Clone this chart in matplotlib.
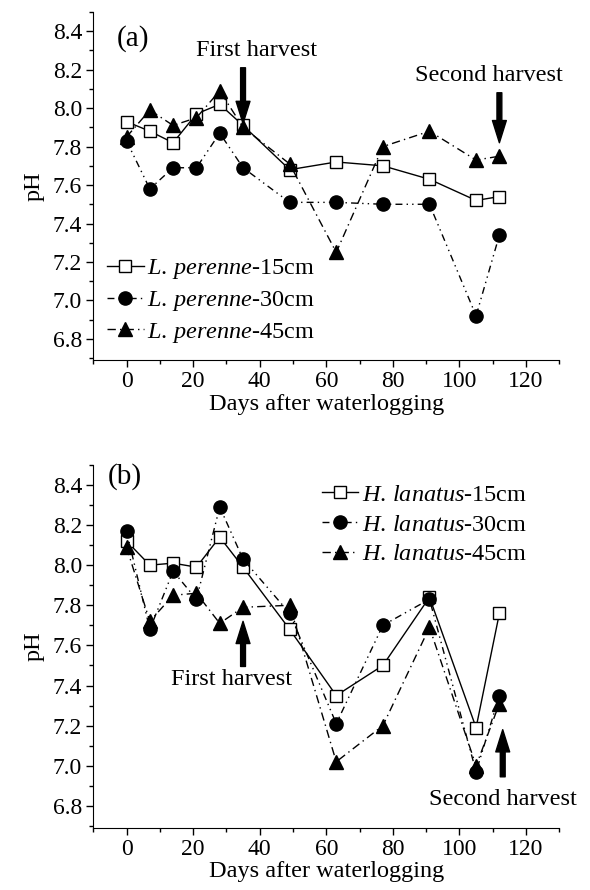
import numpy as np
import matplotlib
matplotlib.use('Agg')
import matplotlib.pyplot as plt
from matplotlib.ticker import MultipleLocator

plt.rcParams['font.family'] = ['Liberation Serif', 'DejaVu Serif']
plt.rcParams['mathtext.fontset'] = 'custom'
plt.rcParams['mathtext.rm'] = 'Liberation Serif'
plt.rcParams['mathtext.it'] = 'Liberation Serif:italic'

days = [0, 7, 14, 21, 28, 35, 49, 63, 77, 91, 105, 112]

# panel (a) L. perenne
lp_15 = [7.93, 7.88, 7.82, 7.97, 8.02, 7.91, 7.68, 7.72, 7.70, 7.63, 7.52, 7.54]
lp_30 = [7.83, 7.58, 7.69, 7.69, 7.87, 7.69, 7.51, 7.51, 7.50, 7.50, 6.92, 7.34]
lp_45 = [7.85, 7.99, 7.91, 7.95, 8.09, 7.90, 7.71, 7.25, 7.80, 7.88, 7.73, 7.75]

# panel (b) H. lanatus
hl_15 = [8.12, 8.00, 8.01, 7.99, 8.14, 7.99, 7.68, 7.35, 7.50, 7.84, 7.19, 7.76]
hl_30 = [8.17, 7.68, 7.97, 7.83, 8.29, 8.03, 7.76, 7.21, 7.70, 7.83, 6.97, 7.35]
hl_45 = [8.09, 7.72, 7.85, 7.86, 7.71, 7.79, 7.80, 7.02, 7.20, 7.69, 7.00, 7.31]

depths = ['15cm', '30cm', '45cm']

styles = [
    dict(ls='-', marker='s', mfc='white', mec='black', ms=8.5),
    dict(ls=(0, (5, 3, 1, 3, 1, 3)), marker='o', mfc='black', mec='black', ms=9.5),
    dict(ls=(0, (6, 3, 1, 3)), marker='^', mfc='black', mec='black', ms=9.5),
]

fig = plt.figure(figsize=(5.9, 8.9), dpi=100)
ax1 = fig.add_axes([0.158, 0.5955, 0.79, 0.391])
ax2 = fig.add_axes([0.158, 0.0697, 0.79, 0.408])


def setup(ax):
    ax.set_xlim(-10, 130)
    ax.set_ylim(6.69, 8.5)
    ax.spines['top'].set_visible(False)
    ax.spines['right'].set_visible(False)
    ax.xaxis.set_minor_locator(MultipleLocator(10))
    ax.yaxis.set_minor_locator(MultipleLocator(0.1))
    ax.set_xticks(np.arange(0, 121, 20))
    ax.set_yticks(np.arange(6.8, 8.41, 0.2))
    ax.yaxis.set_major_formatter(matplotlib.ticker.FormatStrFormatter('%.1f'))
    ax.tick_params(which='major', direction='out', length=5, width=1, labelsize=17, pad=3)
    ax.tick_params(which='minor', direction='out', length=3, width=1)
    ax.set_xlabel('Days after waterlogging', fontsize=17.5, labelpad=1)
    ax.set_ylabel('pH', fontsize=17.5, labelpad=6)


setup(ax1)
setup(ax2)

for vals, d, st in zip([lp_15, lp_30, lp_45], depths, styles):
    ax1.plot(days, vals, color='black', lw=1, label=r'$\mathit{L.\,perenne}$-' + d, **st)

for vals, d, st in zip([hl_15, hl_30, hl_45], depths, styles):
    ax2.plot(days, vals, color='black', lw=1, label=r'$\mathit{H.\,lanatus}$-' + d, **st)

leg_kw = dict(frameon=False, fontsize=17.5, handlelength=1.5, handletextpad=0.15,
              labelspacing=0.32, borderpad=0, borderaxespad=0)
ax1.legend(loc='upper left', bbox_to_anchor=(0.03, 0.295), **leg_kw)
ax2.legend(loc='upper left', bbox_to_anchor=(0.49, 0.948), **leg_kw)

arrow = dict(width=3.5, headwidth=10, headlength=16, color='black')

ax1.text(1.8, 8.36, '(a)', fontsize=21, ha='center', va='center')
ax1.text(39, 8.30, 'First harvest', fontsize=17.5, ha='center', va='center')
ax1.annotate('', xy=(35, 7.92), xytext=(35, 8.21), arrowprops=arrow)
ax1.text(109, 8.17, 'Second harvest', fontsize=17.5, ha='center', va='center')
ax1.annotate('', xy=(112, 7.82), xytext=(112, 8.08), arrowprops=arrow)

ax2.text(-0.5, 8.44, '(b)', fontsize=21, ha='center', va='center')
ax2.text(31.5, 7.43, 'First harvest', fontsize=17.5, ha='center', va='center')
ax2.annotate('', xy=(35, 7.72), xytext=(35, 7.495), arrowprops=arrow)
ax2.text(113, 6.83, 'Second harvest', fontsize=17.5, ha='center', va='center')
ax2.annotate('', xy=(113, 7.18), xytext=(113, 6.945), arrowprops=arrow)

fig.savefig('out.png', dpi=100)
